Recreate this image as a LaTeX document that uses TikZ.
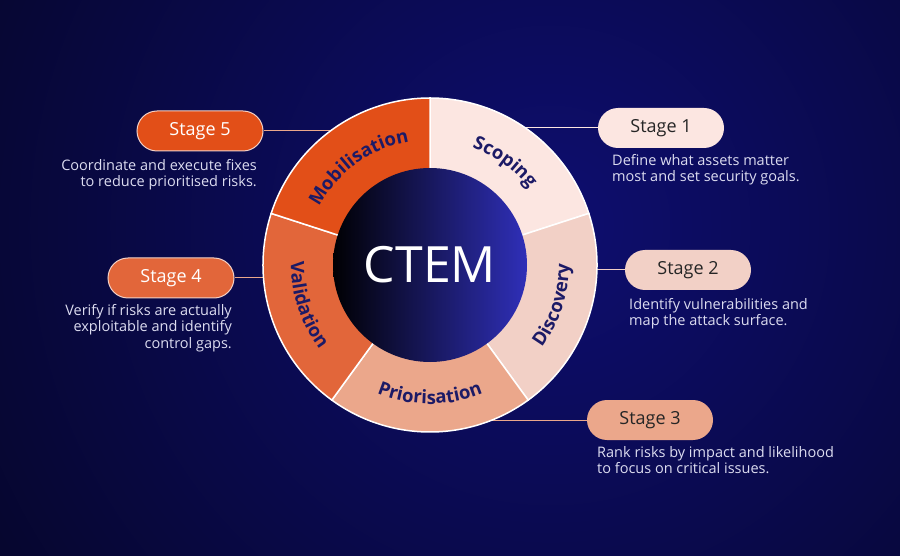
\documentclass[tikz,border=0pt]{standalone}
\usepackage{fontspec}
\setmainfont{Open Sans}
\usetikzlibrary{decorations.text}
\definecolor{bgin}{HTML}{0E0E70}
\definecolor{bgout}{HTML}{04041E}
\definecolor{cA}{HTML}{FCE6E1}
\definecolor{cB}{HTML}{F2D0C6}
\definecolor{cC}{HTML}{EBA78B}
\definecolor{cD}{HTML}{E2663A}
\definecolor{cE}{HTML}{E24F18}
\definecolor{navy}{HTML}{1C1A66}
\definecolor{desc}{HTML}{DCDCF0}
\definecolor{ccore}{HTML}{2F2FB8}
\begin{document}
\begin{tikzpicture}[x=1pt,y=1pt,
  pill/.style={rounded corners=20pt,minimum width=126pt,minimum height=40pt,font=\fontsize{18}{20}\selectfont,inner sep=0pt},
  dsc/.style={text=desc,font=\fontsize{14.5}{16.5}\selectfont,inner sep=0pt},
  seg/.style={fill=#1,draw=white,line width=1.5pt},
  conn/.style={line width=1pt}]
\useasboundingbox (0,0) rectangle (900,555);
\begin{scope}
\clip (0,0) rectangle (900,555);
\fill[bgout] (0,0) rectangle (900,555);
\shade[inner color=bgin,outer color=bgout] (550,330) circle[radius=800];
\end{scope}
\coordinate (c) at (430,290);
% stage pills
\node[pill,fill=cA,text=black!85] (s1) at (661,427) {Stage 1};
\node[pill,fill=cB,text=black!85] (s2) at (688,285) {Stage 2};
\node[pill,fill=cC,text=black!85] (s3) at (650,135) {Stage 3};
\node[pill,fill=cD,draw=cB,line width=1pt,text=white] (s4) at (171,277) {Stage 4};
\node[pill,fill=cE,draw=cB,line width=1pt,text=white] (s5) at (200,424) {Stage 5};
\coordinate (p1) at (520,427);
\coordinate (p2) at (590,285);
\coordinate (p3) at (470,135);
\coordinate (p4) at (270,277);
\coordinate (p5) at (340,424);
\draw[conn,draw=cA] (p1) -- (s1.west);
\draw[conn,draw=cB] (p2) -- (s2.west);
\draw[conn,draw=cC] (p3) -- (s3.west);
\draw[conn,draw=cC] (p4) -- (s4.east);
\draw[conn,draw=cC] (p5) -- (s5.east);
% ring
\fill[seg=cA] (c) -- ++(90:167) arc[start angle=90,end angle=18,radius=167] -- cycle;
\fill[seg=cB] (c) -- ++(18:167) arc[start angle=18,end angle=-54,radius=167] -- cycle;
\fill[seg=cC] (c) -- ++(-54:167) arc[start angle=-54,end angle=-126,radius=167] -- cycle;
\fill[seg=cD] (c) -- ++(-126:167) arc[start angle=-126,end angle=-198,radius=167] -- cycle;
\fill[seg=cE] (c) -- ++(162:167) arc[start angle=162,end angle=90,radius=167] -- cycle;
\shade[left color=black!90!bgout,right color=ccore] (c) circle[radius=97];
\node[text=white,font=\fontsize{50}{56}\selectfont] (ct) at (c) {CTEM};
% curved labels
\path[decorate,decoration={text along path,text align=center,text color=navy,
  text={|\fontsize{18.5}{20}\selectfont\bfseries|Scoping}}]
  (c) ++(90:125) arc[start angle=90,end angle=18,radius=125];
\path[decorate,decoration={text along path,text align=center,text color=navy,
  text={|\fontsize{18.5}{20}\selectfont\bfseries|Mobilisation}}]
  (c) ++(162:125) arc[start angle=162,end angle=90,radius=125];
\path[decorate,decoration={text along path,text align=center,text color=navy,
  text={|\fontsize{18.5}{20}\selectfont\bfseries|Discovery}}]
  (c) ++(-54:139) arc[start angle=-54,end angle=18,radius=139];
\path[decorate,decoration={text along path,text align=center,text color=navy,
  text={|\fontsize{18.5}{20}\selectfont\bfseries|Priorisation}}]
  (c) ++(-126:139) arc[start angle=-126,end angle=-54,radius=139];
\path[decorate,decoration={text along path,text align=center,text color=navy,
  text={|\fontsize{18.5}{20}\selectfont\bfseries|Validation}}]
  (c) ++(162:139) arc[start angle=162,end angle=234,radius=139];
% descriptions
\node[dsc,anchor=north west,align=left] (d1) at (612,401) {Define what assets matter\\most and set security goals.};
\node[dsc,anchor=north west,align=left] (d2) at (629,257) {Identify vulnerabilities and\\map the attack surface.};
\node[dsc,anchor=north west,align=left] (d3) at (597,109) {Rank risks by impact and likelihood\\to focus on critical issues.};
\node[dsc,anchor=north east,align=right] (d4) at (232,251) {Verify if risks are actually\\exploitable and identify\\control gaps.};
\node[dsc,anchor=north east,align=right] (d5) at (257,396) {Coordinate and execute fixes\\to reduce prioritised risks.};
\end{tikzpicture}
\end{document}
